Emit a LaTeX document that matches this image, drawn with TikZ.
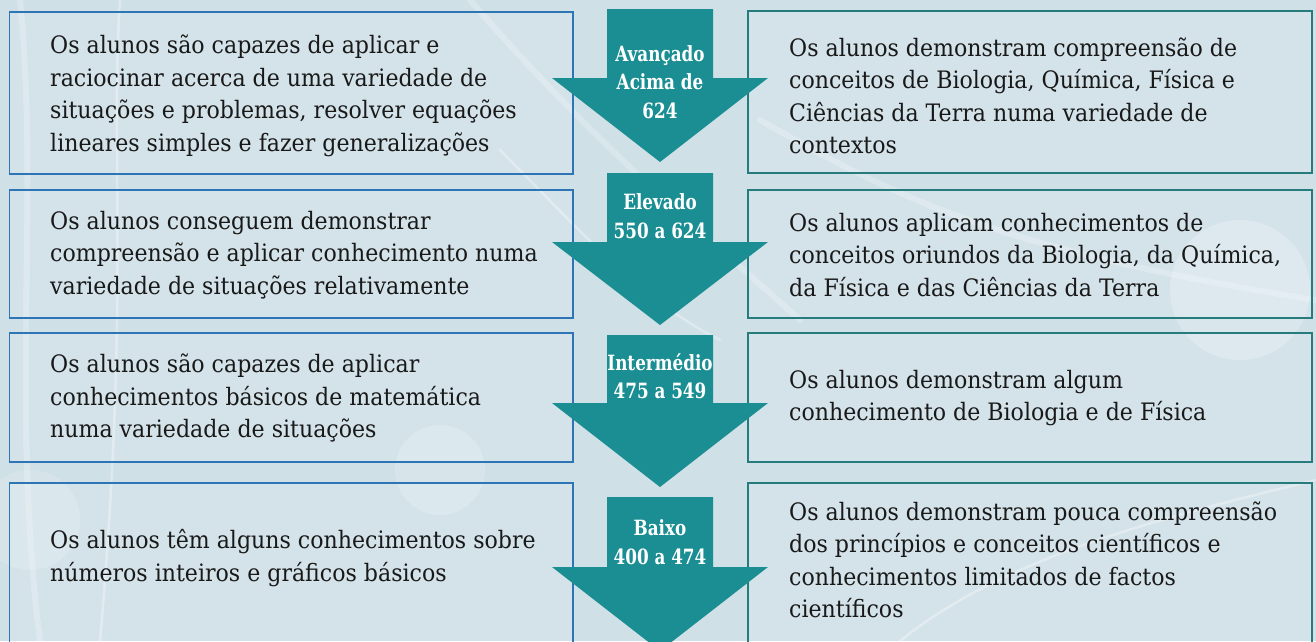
\documentclass[tikz,border=0pt]{standalone}
\usepackage{fontspec}
\setmainfont{DejaVu Serif}[FakeStretch=0.92]
\newfontfamily\arrowfont{DejaVu Serif}[FakeStretch=0.8]
\definecolor{bgc}{RGB}{207,224,231}
\definecolor{leftblue}{RGB}{46,117,182}
\definecolor{rightteal}{RGB}{38,124,124}
\definecolor{arrowteal}{RGB}{27,142,147}
\definecolor{txtc}{RGB}{25,25,25}
\tikzset{
  lbox/.style={draw=leftblue, line width=1.6pt, fill=white, fill opacity=0.12},
  rbox/.style={draw=rightteal, line width=1.6pt, fill=white, fill opacity=0.12},
  txt/.style={anchor=west, align=left, inner sep=0pt, text=txtc, font=\fontsize{24}{32.5}\selectfont},
  arrowshape/.style={fill=arrowteal, draw=none},
  alabel/.style={align=center, inner sep=0pt, text=white, font=\arrowfont\bfseries\fontsize{21}{28.5}\selectfont},
  glow/.style={draw=white, line width=6pt, opacity=0.22, line cap=round},
  glowthin/.style={draw=white, line width=2.5pt, opacity=0.3, line cap=round}
}
\begin{document}
\begin{tikzpicture}[x=1pt,y=-1pt]
\useasboundingbox (0,0) rectangle (1316,641);
\clip (0,0) rectangle (1316,641);
\fill[bgc] (0,0) rectangle (1316,641);
% faint background network
\path[glow] (470,0) .. controls (600,150) and (700,230) .. (800,320);
\path[glowthin] (500,150) .. controls (580,230) and (640,300) .. (720,340);
\path[glow] (20,0) .. controls (40,200) and (10,400) .. (40,641);
\path[glowthin] (120,0) .. controls (110,150) and (130,300) .. (100,641);
\path[glow] (760,120) .. controls (900,200) and (1000,250) .. (1316,300);
\fill[white, opacity=0.22] (1240,290) circle (70);
\fill[white, opacity=0.18] (440,470) circle (45);
\fill[white, opacity=0.16] (30,520) circle (50);
\path[glowthin] (900,641) .. controls (1000,560) and (1150,520) .. (1316,480);

% boxes
\path[lbox] (9.5,12) rectangle (573,174);
\path[lbox] (9.5,190) rectangle (573,318);
\path[lbox] (9.5,333) rectangle (573,462);
\path[lbox] (9.5,483) rectangle (573,660);
\path[rbox] (748,11) rectangle (1312,173);
\path[rbox] (748,190) rectangle (1312,318);
\path[rbox] (748,333) rectangle (1312,462);
\path[rbox] (748,483) rectangle (1312,660);

% left texts
\node[txt] (l1) at (50,96) {Os alunos são capazes de aplicar e\\raciocinar acerca de uma variedade de\\situações e problemas, resolver equações\\lineares simples e fazer generalizações};
\node[txt] (l2) at (50,255) {Os alunos conseguem demonstrar\\compreensão e aplicar conhecimento numa\\variedade de situações relativamente};
\node[txt] (l3) at (50,398) {Os alunos são capazes de aplicar\\conhecimentos básicos de matemática\\numa variedade de situações};
\node[txt] (l4) at (50,558) {Os alunos têm alguns conhecimentos sobre\\números inteiros e gráficos básicos};

% right texts
\node[txt] (r1) at (789,96) {Os alunos demonstram compreensão de\\conceitos de Biologia, Química, Física e\\Ciências da Terra numa variedade de\\contextos};
\node[txt] (r2) at (789,255) {Os alunos aplicam conhecimentos de\\conceitos oriundos da Biologia, da Química,\\da Física e das Ciências da Terra};
\node[txt] (r3) at (789,398) {Os alunos demonstram algum\\conhecimento de Biologia e de Física};
\node[txt] (r4) at (789,560) {Os alunos demonstram pouca compreensão\\dos princípios e conceitos científicos e\\conhecimentos limitados de factos\\científicos};

% arrows
\foreach \t/\s/\p in {9/78/162, 173/242/325, 335/403/487, 497/567/651}{
  \path[arrowshape] (607,\t) -- (713,\t) -- (713,\s) -- (768,\s) -- (660,\p) -- (552,\s) -- (607,\s) -- cycle;
}
\node[alabel] (a1) at (660,82) {Avançado\\Acima de\\624};
\node[alabel] (a2) at (660,216) {Elevado\\550 a 624};
\node[alabel] (a3) at (660,376) {Intermédio\\475 a 549};
\node[alabel] (a4) at (660,542) {Baixo\\400 a 474};
\end{tikzpicture}
\end{document}
